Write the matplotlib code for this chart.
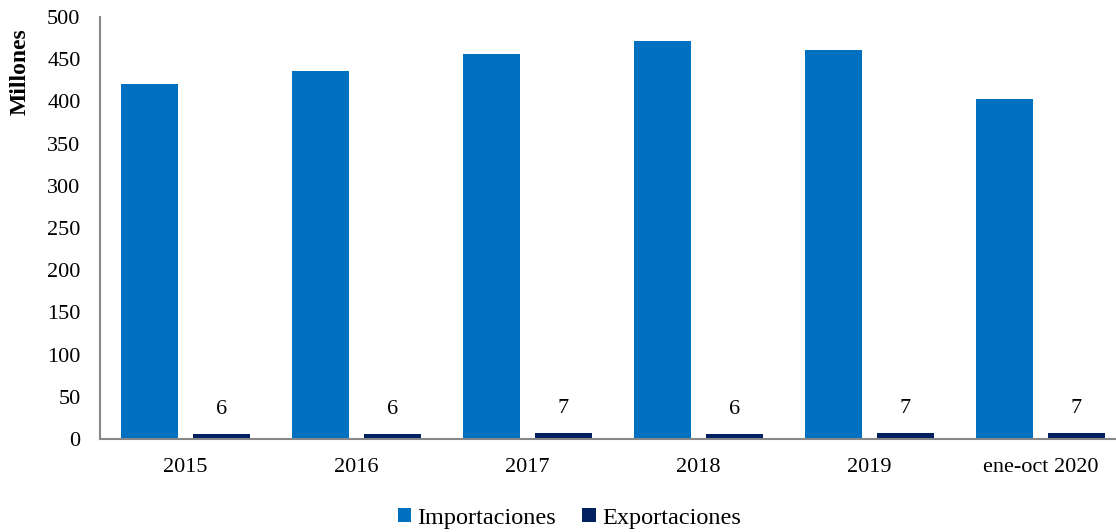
import matplotlib
matplotlib.use('Agg')
import matplotlib.pyplot as plt
import numpy as np

# datos
categorias = ['2015', '2016', '2017', '2018', '2019', 'ene-oct 2020']
importaciones = [421, 436, 456, 472, 461, 403]
exportaciones = [6, 6, 7, 6, 7, 7]

plt.rcParams['font.family'] = ['Liberation Serif', 'DejaVu Serif']

fig = plt.figure(figsize=(11.16, 5.32), dpi=100)
ax = fig.add_axes([100 / 1116, 93 / 532, 1026 / 1116, 422 / 532])

x = np.arange(len(categorias))
w = 0.333
off = 0.21
ax.bar(x - off, importaciones, w, color='#0070C0', label='Importaciones')
ax.bar(x + off, exportaciones, w, color='#002060', label='Exportaciones')

for xi, v in zip(x, exportaciones):
    ax.annotate(str(v), (xi + off, v), xytext=(0, 11), textcoords='offset points',
                ha='center', va='bottom', fontsize=16)

ax.set_xlim(-0.5, len(categorias) - 0.5)
ax.set_ylim(0, 500)
ax.set_yticks(np.arange(0, 501, 50))
ax.set_xticks(x)
ax.set_xticklabels(categorias)
ax.tick_params(axis='both', length=0, labelsize=16)
ax.tick_params(axis='x', pad=14)
ax.tick_params(axis='y', pad=14)

for s in ['top', 'right']:
    ax.spines[s].set_visible(False)
ax.spines['left'].set_color('#888888')
ax.spines['bottom'].set_color('#888888')
ax.spines['left'].set_linewidth(1.5)
ax.spines['bottom'].set_linewidth(1.5)

fig.text(20 / 1116, 1 - 72 / 532, 'Millones', rotation=90, fontsize=17,
         fontweight='bold', ha='center', va='center')

fig.legend(loc='lower center', bbox_to_anchor=(0.51, -0.035), ncol=2, frameon=False,
           fontsize=17.5, handlelength=0.55, handleheight=0.55, handletextpad=0.25,
           columnspacing=1.1)

fig.savefig('out.png', dpi=100)
